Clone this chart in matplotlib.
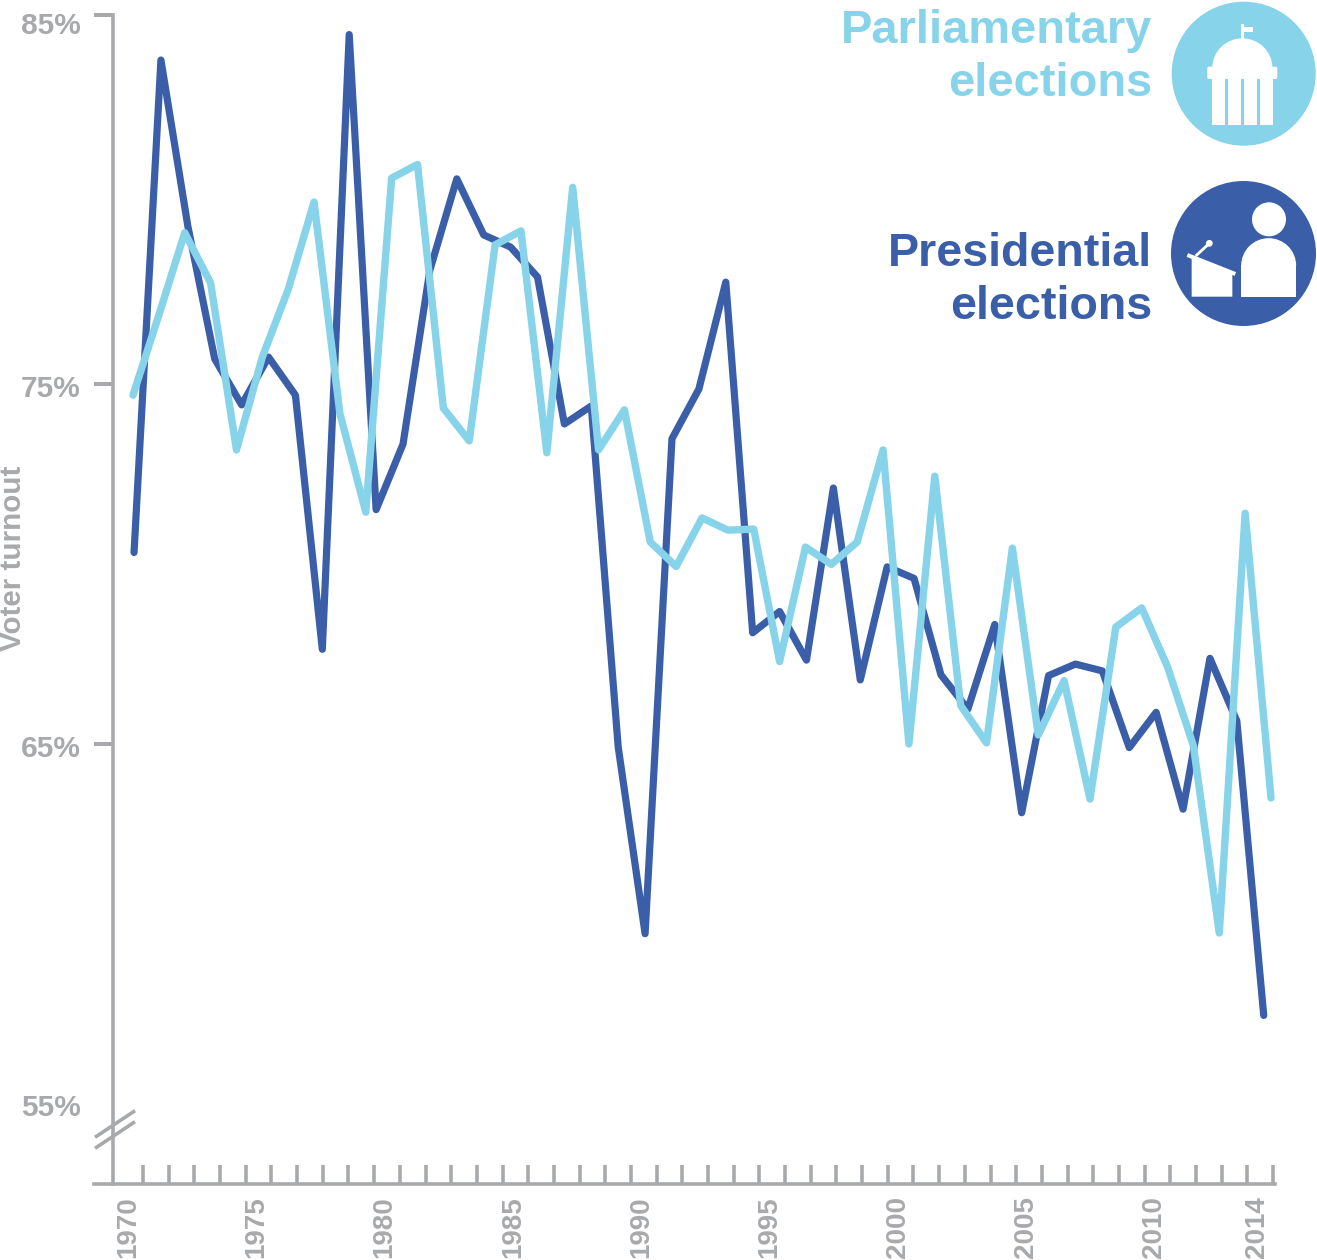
import numpy as np
import matplotlib
matplotlib.use('Agg')
import matplotlib.pyplot as plt
from matplotlib.patches import Circle, Rectangle, Polygon, FancyBboxPatch, Wedge

plt.rcParams['font.family'] = ['Liberation Sans', 'DejaVu Sans']

presidential = [70.32, 83.78, 79.28, 75.68, 74.42, 75.73, 74.69, 67.63, 84.47, 71.51,
                73.33, 78.09, 80.56, 79.04, 78.71, 77.90, 73.89, 74.39, 64.92, 59.73,
                73.48, 74.86, 77.76, 68.09, 68.68, 67.33, 72.11, 66.78, 69.92, 69.60,
                66.92, 65.97, 68.32, 63.09, 66.90, 67.22, 67.03, 64.90, 65.88, 63.19,
                67.38, 65.64, 57.46]
parliamentary = [74.69, 76.87, 79.10, 77.74, 73.17, 75.73, 77.56, 79.93, 74.18, 71.44,
                 80.58, 80.95, 74.33, 73.42, 78.77, 79.15, 73.09, 80.33, 73.17, 74.28,
                 70.61, 69.93, 71.28, 70.94, 70.97, 67.29, 70.47, 69.99, 70.61, 73.17,
                 65.00, 72.44, 66.07, 65.03, 70.44, 65.25, 66.76, 63.47, 68.25, 68.78,
                 67.14, 64.95, 59.75, 71.41, 63.50]
label_years = [1970, 1975, 1980, 1985, 1990, 1995, 2000, 2005, 2010, 2014]
y_labels = ['85%', '75%', '65%', '55%']
y_major = [85, 75, 65]

DARK, LIGHT, GRAY = '#3A5FA8', '#87D3EA', '#A7A9AC'
W, H = 1317, 1260
PXPT = 0.72

fig = plt.figure(figsize=(W / 100, H / 100), dpi=100)
ax = fig.add_axes([0, 0, 1, 1])

# x: pixel = 133 + 25.864 * (year - 1970)
SX = 25.864
def px2x(p):
    return 1970 + (np.asarray(p, float) - 133) / SX

# y: the source axis has an uneven top segment
anch_v = np.array([45., 55., 65., 75., 85., 95.])
anch_p = np.array([1464., 1104., 744., 384., 15., -354.])
def fwd(v):
    return np.interp(v, anch_v, -anch_p)
def inv(t):
    return np.interp(t, -anch_p, anch_v)
def px2v(p):
    return inv(-np.asarray(p, float))
ax.set_yscale('function', functions=(fwd, inv))
ax.set_xlim(px2x(0), px2x(W))
ax.set_ylim(px2v(H), px2v(0))

x_par = 1970 + np.arange(len(parliamentary))
x_pre = np.linspace(1970, px2x(1262.7), len(presidential)) + 0.04
ax.plot(x_pre, presidential, color=DARK, lw=7.2 * PXPT, solid_capstyle='round',
        solid_joinstyle='round', zorder=3)
ax.plot(x_par, parliamentary, color=LIGHT, lw=7.4 * PXPT, solid_capstyle='round',
        solid_joinstyle='round', zorder=4)

# axes
for s in ('top', 'right'):
    ax.spines[s].set_visible(False)
ax.spines['left'].set_position(('data', float(px2x(113))))
ax.spines['bottom'].set_position(('data', float(px2v(1184))))
ax.spines['left'].set_bounds(float(px2v(1184)), float(px2v(15)))
ax.spines['bottom'].set_bounds(float(px2x(94)), float(px2x(1275)))
for s in ('left', 'bottom'):
    ax.spines[s].set_color(GRAY)
    ax.spines[s].set_linewidth(3.6 * PXPT)

ax.set_xticks(np.linspace(px2x(143), px2x(1273), 45))
ax.set_xticklabels([])
ax.set_xticks(px2x(128 + 25.65 * (np.array(label_years) - 1970)), minor=True)
ax.set_xticklabels([str(y) for y in label_years], minor=True, rotation=90,
                   fontsize=20, color=GRAY, fontweight='bold', va='top', ha='center')
ax.tick_params(axis='x', which='major', direction='in', length=19 * PXPT,
               width=3.6 * PXPT, color=GRAY)
ax.tick_params(axis='x', which='minor', length=0, pad=12 * PXPT)

ax.set_yticks(y_major)
ax.set_yticklabels([])
ax.set_yticks(px2v([26.5, 389, 749, 1108]), minor=True)
ax.set_yticklabels(y_labels, minor=True, fontsize=21.5, color=GRAY, fontweight='bold',
                   ha='right', va='center')
ax.tick_params(axis='y', which='major', direction='out', length=19 * PXPT,
               width=4 * PXPT, color=GRAY)
ax.tick_params(axis='y', which='minor', length=0, pad=32 * PXPT)
ax.patch.set_alpha(0)

# overlay in pixel coordinates for annotation and icons
ov = fig.add_axes([0, 0, 1, 1], zorder=5)
ov.set_xlim(0, W)
ov.set_ylim(H, 0)
ov.axis('off')

for dy in (0, 11):
    ov.plot([95, 135], [1137.3 + dy, 1110.7 + dy], color=GRAY, lw=3.6 * PXPT,
            solid_capstyle='butt')

ov.text(13.5, 558, 'Voter turnout', rotation=90, ha='center', va='center', fontsize=21.3,
        fontweight='bold', color=GRAY)

ov.text(1152, 43, 'Parliamentary', ha='right', va='baseline', fontsize=33.8,
        fontweight='bold', color=LIGHT)
ov.text(1152, 96, 'elections', ha='right', va='baseline', fontsize=33.8,
        fontweight='bold', color=LIGHT)
ov.text(1152, 266, 'Presidential', ha='right', va='baseline', fontsize=33.6,
        fontweight='bold', color=DARK)
ov.text(1152, 319, 'elections', ha='right', va='baseline', fontsize=33.6,
        fontweight='bold', color=DARK)

# parliament icon
def z4(x, y):
    return 1160 + x / 3, y / 3
ov.add_patch(Circle((1243.7, 73.7), 72, fc=LIGHT, ec='none'))
cx, cy = z4(247, 200)
ov.add_patch(Wedge((0, 0), 1, 180, 360, fc='white', ec='none',
                   transform=matplotlib.transforms.Affine2D().scale(30, 29.3).translate(cx, cy + 1) + ov.transData))
x0, y0 = z4(142, 200)
ov.add_patch(FancyBboxPatch((x0 + 1.5, y0 + 1.5), 70 - 3, 12.3 - 3,
                            boxstyle='round,pad=1.5', fc='white', ec='none'))
for a, b in ((157, 195), (205, 243), (253, 291), (301, 338)):
    xa, ya = z4(a, 236)
    ov.add_patch(Rectangle((xa, ya), (b - a) / 3, 140 / 3, fc='white', ec='none'))
xa, ya = z4(243, 72)
ov.add_patch(Rectangle((xa, ya), 8 / 3, 44 / 3, fc='white', ec='none'))
xa, ya = z4(250, 80)
ov.add_patch(Rectangle((xa, ya), 28 / 3, 17 / 3, fc='white', ec='none'))

# presidential icon
def z5(x, y):
    return 1160 + x / 3, 175 + y / 3
ov.add_patch(Circle((1243.5, 253.5), 72.5, fc=DARK, ec='none'))
ov.add_patch(Circle(z5(327, 133), 17, fc='white', ec='none'))
cx, cy = z5(326, 272)
ov.add_patch(Wedge((cx, cy), 27.5, 180, 360, fc='white', ec='none'))
xa, ya = z5(244, 270)
ov.add_patch(Rectangle((xa, ya), 165 / 3, 95 / 3, fc='white', ec='none'))
ov.add_patch(Polygon([z5(95, 245), z5(217, 295), z5(217, 365), z5(95, 365)], fc='white', ec='none'))
p1, p2 = z5(82, 240), z5(226, 297)
ov.plot([p1[0], p2[0]], [p1[1], p2[1]], color='white', lw=4 * PXPT, solid_capstyle='butt')
p1, p2 = z5(107, 243), z5(148, 205)
ov.plot([p1[0], p2[0]], [p1[1], p2[1]], color='white', lw=2.8 * PXPT, solid_capstyle='butt')
ov.add_patch(Circle(z5(148, 205), 3.4, fc='white', ec='none'))

fig.savefig('out.png', dpi=100)
